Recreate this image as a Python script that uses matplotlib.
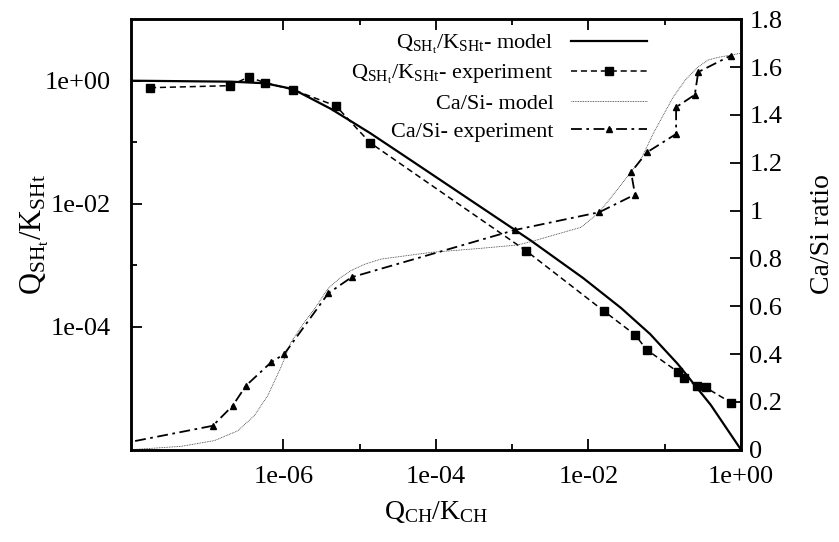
import matplotlib
matplotlib.use("Agg")
import matplotlib.pyplot as plt
from matplotlib.ticker import FixedLocator, FuncFormatter, NullFormatter

plt.rcParams["font.family"] = ["Liberation Serif", "DejaVu Serif"]
plt.rcParams["mathtext.fontset"] = "custom"
plt.rcParams["mathtext.rm"] = "Liberation Serif"
plt.rcParams["mathtext.it"] = "Liberation Serif:italic"
plt.rcParams["mathtext.bf"] = "Liberation Serif:bold"

# Q_SHt/K_SHt model (left axis)
qsh_model_x = [1e-8, 2.07e-7, 5.77e-7, 1.33e-6, 4.23e-6, 1.37e-5, 4.45e-5,
               1.77e-3, 8.51e-3, 2.68e-2, 6.43e-2, 0.148, 0.401, 1.0]
qsh_model_y = [1.0, 0.964, 0.908, 0.733, 0.347, 0.141, 0.0533,
               2.50e-3, 6.19e-4, 2.01e-4, 7.60e-5, 2.48e-5, 5.35e-6, 1e-6]

# Q_SHt/K_SHt experiment (left axis)
qsh_exp_x = [1.79e-8, 2.00e-7, 3.52e-7, 5.77e-7, 1.33e-6, 4.91e-6, 1.37e-5,
             1.52e-3, 1.59e-2, 4.08e-2, 5.82e-2, 0.148, 0.179, 0.263, 0.343, 0.735]
qsh_exp_y = [0.769, 0.830, 1.148, 0.927, 0.714, 0.388, 0.0982,
             1.72e-3, 1.80e-4, 7.38e-5, 4.21e-5, 1.85e-5, 1.45e-5, 1.09e-5, 1.03e-5, 5.85e-6]

# Ca/Si model (right axis)
casi_model_x = [1e-8, 4.56e-8, 1.25e-7, 2.53e-7, 4.17e-7, 6.25e-7, 9.33e-7, 1.26e-6,
                1.89e-6, 2.55e-6, 3.89e-6, 5.55e-6, 7.73e-6, 1.18e-5, 1.91e-5, 8.65e-5,
                3.91e-4, 1.18e-3, 1.77e-3, 8.02e-3, 1.39e-2, 2.42e-2, 4.90e-2, 7.10e-2,
                0.130, 0.191, 0.271, 0.370, 0.495, 0.973]
casi_model_y = [0.0, 0.014, 0.038, 0.079, 0.142, 0.226, 0.345, 0.449,
                0.533, 0.588, 0.675, 0.718, 0.749, 0.776, 0.797, 0.825,
                0.842, 0.856, 0.870, 0.930, 0.993, 1.090, 1.215, 1.323,
                1.476, 1.550, 1.599, 1.629, 1.640, 1.657]

# Ca/Si experiment (right axis)
casi_exp_x = [3.0e-9, 1.19e-7, 2.17e-7, 3.25e-7, 6.90e-7, 1.03e-6, 3.89e-6, 7.85e-6,
              1.10e-3, 1.39e-2, 4.08e-2, 3.62e-2, 5.83e-2, 0.141, 0.141, 0.248,
              0.275, 0.729]
casi_exp_y = [0.0, 0.100, 0.184, 0.268, 0.365, 0.400, 0.654, 0.721,
              0.919, 0.993, 1.067, 1.160, 1.243, 1.320, 1.432, 1.484,
              1.579, 1.647]

x_major = [1e-6, 1e-4, 1e-2, 1.0]
x_minor = [1e-5, 1e-3, 1e-1]
y_major = [1e-4, 1e-2, 1.0]
y_minor = [1e-3, 1e-1]
r_ticks = [0.0, 0.2, 0.4, 0.6, 0.8, 1.0, 1.2, 1.4, 1.6, 1.8]

fig = plt.figure(figsize=(8.39, 5.42), dpi=100)
ax = fig.add_axes([0.1558, 0.1703, 0.7274, 0.7943])
ax2 = ax.twinx()

h1, = ax.plot(qsh_model_x, qsh_model_y, color="black", lw=1.6,
              label=r"Q$_{\mathrm{SH}_\mathrm{t}}$/K$_{\mathrm{SHt}}$- model")
h2, = ax.plot(qsh_exp_x, qsh_exp_y, color="black", lw=1.1, dashes=(4, 2.5),
              marker="s", markersize=6,
              label=r"Q$_{\mathrm{SH}_\mathrm{t}}$/K$_{\mathrm{SHt}}$- experiment")
h3, = ax2.plot(casi_model_x, casi_model_y, color="#333333", lw=0.6, dashes=(1, 1),
               label="Ca/Si- model")
h4, = ax2.plot(casi_exp_x, casi_exp_y, color="black", lw=1.3, dashes=(6, 2.5, 1.5, 2.5),
               marker="^", markersize=5,
               label="Ca/Si- experiment")

ax.set_xscale("log")
ax.set_yscale("log")
ax.set_xlim(1e-8, 1.0)
ax.set_ylim(1e-6, 10.0)
ax2.set_ylim(0, 1.8)

ax.xaxis.set_major_locator(FixedLocator(x_major))
ax.xaxis.set_minor_locator(FixedLocator(x_minor))
ax.yaxis.set_major_locator(FixedLocator(y_major))
ax.yaxis.set_minor_locator(FixedLocator(y_minor))
sci = FuncFormatter(lambda v, _: f"{v:.0e}")
ax.xaxis.set_major_formatter(sci)
ax.yaxis.set_major_formatter(sci)
ax.xaxis.set_minor_formatter(NullFormatter())
ax.yaxis.set_minor_formatter(NullFormatter())

ax2.yaxis.set_major_locator(FixedLocator(r_ticks))
ax2.yaxis.set_major_formatter(FuncFormatter(lambda v, _: f"{round(v, 1):g}"))

ax.tick_params(axis="x", which="both", direction="in", top=True, labelsize=19, pad=12)
ax.tick_params(axis="y", which="both", direction="in", right=False, labelsize=19, pad=14)
ax.tick_params(which="major", length=8, width=1.3)
ax.tick_params(which="minor", length=4, width=1.3)
ax2.tick_params(axis="y", direction="in", length=8, width=1.3, labelsize=19, pad=6)

for a in (ax, ax2):
    for s in a.spines.values():
        s.set_linewidth(1.8)

ax.set_xlabel(r"Q$_{\mathrm{CH}}$/K$_{\mathrm{CH}}$", fontsize=20)
ax.xaxis.set_label_coords(0.5, -0.115)
ax.set_ylabel(r"Q$_{\mathrm{SH}_\mathrm{t}}$/K$_{\mathrm{SHt}}$", fontsize=22)
ax.yaxis.set_label_coords(-0.13, 0.5)
ax2.set_ylabel("Ca/Si ratio", fontsize=20)
ax2.yaxis.set_label_coords(1.113, 0.5)

ax2.legend(handles=[h1, h2, h3, h4], loc="upper right", bbox_to_anchor=(0.875, 1.01),
           frameon=False, markerfirst=False, fontsize=16, handlelength=3.4,
           handletextpad=0.8, labelspacing=0.33, borderpad=0.3)

fig.savefig("out.png", dpi=100)
